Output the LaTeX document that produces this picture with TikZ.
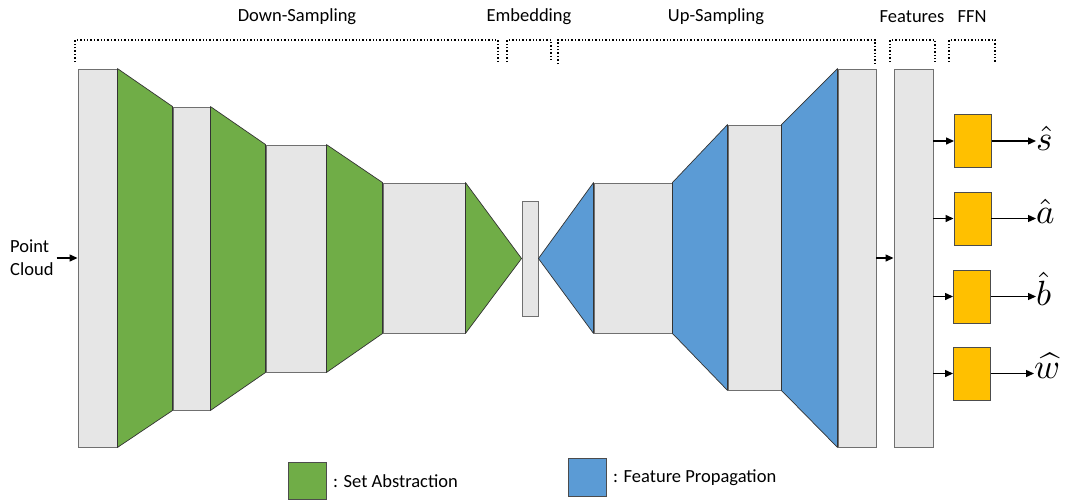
\documentclass[tikz,border=0pt]{standalone}
\usepackage{fontspec}
\setmainfont{Carlito}
\usetikzlibrary{arrows.meta}
\definecolor{boxgray}{HTML}{E6E6E6}
\definecolor{boxline}{HTML}{707070}
\definecolor{sagreen}{HTML}{70AD47}
\definecolor{fpblue}{HTML}{5B9BD5}
\definecolor{ffnyel}{HTML}{FFC000}
\newcommand{\outmath}[1]{\scalebox{3.5}{$#1$}}
\tikzset{
  layer/.style={draw=boxline, fill=boxgray, line width=0.9pt, inner sep=0pt},
  sa/.style={draw=black!80, fill=sagreen, line width=0.7pt, line join=round},
  fp/.style={draw=black!80, fill=fpblue, line width=0.7pt, line join=round},
  ffn/.style={draw=black!70, fill=ffnyel, line width=0.9pt, inner sep=0pt, minimum width=37pt, minimum height=53pt},
  arr/.style={-{Triangle[length=8pt,width=7pt]}, line width=1.3pt},
  brk/.style={dotted, line width=1.4pt},
  lab/.style={font=\fontsize{18.5}{21}\selectfont, inner sep=0pt},
  outlab/.style={inner sep=1pt, anchor=west},
}
\begin{document}
\begin{tikzpicture}[x=1pt,y=-1pt]
\useasboundingbox (0,0) rectangle (1072,499);
% layers
\node[layer, minimum width=39pt, minimum height=378pt] (b1) at (97.5,258) {};
\node[layer, minimum width=37pt, minimum height=303pt] (b2) at (191.5,258.5) {};
\node[layer, minimum width=60pt, minimum height=227pt] (b3) at (296,258.5) {};
\node[layer, minimum width=82pt, minimum height=150pt] (b4) at (424,258) {};
\node[layer, minimum width=16pt, minimum height=115pt] (emb) at (530,258.5) {};
\node[layer, minimum width=78pt, minimum height=150pt] (b5) at (633,258) {};
\node[layer, minimum width=53pt, minimum height=265pt] (b6) at (754.5,257.5) {};
\node[layer, minimum width=38pt, minimum height=378pt] (b7) at (857,258) {};
\node[layer, minimum width=39pt, minimum height=378pt] (feat) at (913.5,258) {};
% set abstraction
\filldraw[sa] (b1.north east) -- (b2.north west) -- (b2.south west) -- (b1.south east) -- cycle;
\filldraw[sa] (b2.north east) -- (b3.north west) -- (b3.south west) -- (b2.south east) -- cycle;
\filldraw[sa] (b3.north east) -- (b4.north west) -- (b4.south west) -- (b3.south east) -- cycle;
\filldraw[sa] (b4.north east) -- (emb.west) -- (b4.south east) -- cycle;
% feature propagation
\filldraw[fp] (emb.east) -- (b5.north west) -- (b5.south west) -- cycle;
\filldraw[fp] (b5.north east) -- (b6.north west) -- (b6.south west) -- (b5.south east) -- cycle;
\filldraw[fp] (b6.north east) -- (b7.north west) -- (b7.south west) -- (b6.south east) -- cycle;
% input
\node[lab, align=left, anchor=west] (pc) at (10,258) {Point\\[2pt]Cloud};
\draw[arr] (pc.east) ++(3pt,0) coordinate (pcs) -- (b1.west);
\draw[arr] (b7.east) -- (feat.west);
% FFN
\node[ffn] (f1) at (973,141) {};
\node[ffn] (f2) at (972.5,218.5) {};
\node[ffn] (f3) at (972,296.5) {};
\node[ffn] (f4) at (972,373.5) {};
\node[outlab] (o1) at (1035,138) {\outmath{\hat{s}}};
\node[outlab] (o2) at (1035,211) {\outmath{\hat{a}}};
\node[outlab] (o3) at (1035,289) {\outmath{\hat{b}}};
\node[outlab] (o4) at (1033,366) {\outmath{\widehat{w}}};
\foreach \i in {1,2,3,4} {
  \draw[arr] (f\i.east) -- ([xshift=1pt]o\i.west |- f\i.east);
  \draw[arr] (feat.east |- f\i.west) -- (f\i.west);
}
% brackets
\draw[brk] (75,62) -- (75,40) -- (498,40) -- (498,62);
\draw[brk] (507,62) -- (507,40) -- (551,40) -- (551,62);
\draw[brk] (558,64) -- (558,40) -- (875,40) -- (875,64);
\draw[brk] (890,62) -- (890,40) -- (935,40) -- (935,62);
\draw[brk] (949,62) -- (949,40) -- (995,40) -- (995,62);
\node[lab] (tds) at (297,17) {Down-Sampling};
\node[lab] (temb) at (529,17) {Embedding};
\node[lab] (tus) at (716,17) {Up-Sampling};
\node[lab] (tfeat) at (912,17) {Features};
\node[lab] (tffn) at (972,17) {FFN};
% legend
\node[draw=black!70, fill=sagreen, line width=0.9pt, minimum width=38pt, minimum height=37pt, inner sep=0pt] (lsa) at (307,480.5) {};
\node[lab, anchor=west] (tsa) at (333,481) {: Set Abstraction};
\node[draw=black!70, fill=fpblue, line width=0.9pt, minimum width=38pt, minimum height=38pt, inner sep=0pt] (lfp) at (587,477) {};
\node[lab, anchor=west] (tfp) at (613,478) {: Feature Propagation};
\end{tikzpicture}
\end{document}
